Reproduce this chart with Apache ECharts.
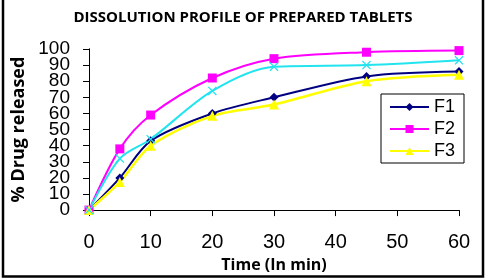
<!DOCTYPE html>
<html>
<head>
<meta charset="utf-8">
<script src="https://cdn.jsdelivr.net/npm/echarts@6/dist/echarts.min.js"></script>
<style>
    html, body {margin: 0; padding: 0; background: #fff;}
    #dissolution_chart {width: 486px; height: 278px;}
</style>
</head>
<body>
<div id="dissolution_chart"></div>
<script>
// time points (min) and % drug released per formulation
var timeData = [0, 5, 10, 20, 30, 45, 60];
var f1Data = [0, 20, 43, 60, 70, 83, 86];
var f2Data = [0, 38, 59, 82, 94, 98, 99];
var f3Data = [0, 17.5, 40, 58.5, 65.5, 80, 84];
var f4Data = [0, 32, 44, 74, 89, 90, 93];
var legendNames = ['F1', 'F2', 'F3'];

function pairs(arr) {
    return timeData.map(function (t, i) {
        return [t, arr[i]];
    });
}

var crossPath = 'path://M0,1L1,0L5,4L9,0L10,1L6,5L10,9L9,10L5,6L1,10L0,9L4,5Z';
var yLabelStyle = {color: '#000', fontSize: 19, margin: 19, fontFamily: 'Liberation Sans'};

function initDissolutionChart() {
    var myChart = echarts.init(document.getElementById('dissolution_chart'));
    var option = {
        backgroundColor: '#fff',
        animation: false,
        title: {
            text: 'DISSOLUTION PROFILE OF PREPARED TABLETS',
            left: 'center', top: 5,
            textStyle: {color: '#000', fontSize: 15, fontWeight: 'bold', fontFamily: 'Open Sans'}
        },
        grid: {left: 89, right: 27, top: 49, bottom: 64},
        legend: {
            data: legendNames,
            orient: 'vertical',
            left: 381, top: 94,
            padding: [4, 9, 3, 8],
            itemGap: 4,
            itemWidth: 39, itemHeight: 10,
            borderColor: '#000', borderWidth: 1,
            textStyle: {color: '#000', fontSize: 18, fontFamily: 'Liberation Sans'}
        },
        xAxis: {
            type: 'value', min: 0, max: 60, interval: 10,
            name: 'Time (In min)', nameLocation: 'middle', nameGap: 36,
            nameTextStyle: {color: '#000', fontSize: 16, fontWeight: 'bold', fontFamily: 'Open Sans'},
            axisLine: {show: true, lineStyle: {color: '#000', width: 1}},
            axisTick: {show: true, length: 6, lineStyle: {color: '#000'}},
            axisLabel: {color: '#000', fontSize: 20, margin: 22, fontFamily: 'Liberation Sans'},
            splitLine: {show: false}
        },
        yAxis: [
            {
                // end labels 0 and 100
                type: 'value', min: 0, max: 100, interval: 100, position: 'left',
                name: '% Drug released', nameLocation: 'middle', nameGap: 60, nameRotate: 90,
                nameTextStyle: {color: '#000', fontSize: 18, fontWeight: 'bold', fontFamily: 'Open Sans'},
                axisLine: {show: true, lineStyle: {color: '#000', width: 1}},
                axisTick: {show: true, length: 6, lineStyle: {color: '#000'}},
                axisLabel: yLabelStyle,
                splitLine: {show: false}
            },
            {
                // inner labels 10..90, same scale and position
                type: 'value', min: 0, max: 100, interval: 10, position: 'left', offset: 0,
                axisLine: {show: true, lineStyle: {color: '#000', width: 1}},
                axisTick: {show: true, length: 6, lineStyle: {color: '#000'}},
                axisLabel: Object.assign({showMinLabel: false, showMaxLabel: false}, yLabelStyle),
                splitLine: {show: false}
            }
        ],
        graphic: [{
            type: 'polyline',
            shape: {points: [[3, 0], [3, 276.5], [483, 276.5], [483, 0]]},
            style: {stroke: '#000', lineWidth: 2.5, fill: null}
        }],
        series: [
            {
                name: 'F1', type: 'line', smooth: 0.3, data: pairs(f1Data),
                symbol: 'diamond', symbolSize: 9,
                itemStyle: {color: '#000080'},
                lineStyle: {color: '#000080', width: 2}
            },
            {
                name: 'F2', type: 'line', smooth: 0.3, data: pairs(f2Data),
                symbol: 'rect', symbolSize: 9,
                itemStyle: {color: '#ff00ff'},
                lineStyle: {color: '#ff00ff', width: 2}
            },
            {
                name: 'F3', type: 'line', smooth: 0.3, data: pairs(f3Data),
                symbol: 'triangle', symbolSize: 10,
                itemStyle: {color: '#ffff00'},
                lineStyle: {color: '#ffff00', width: 2.5}
            },
            {
                name: 'F4', type: 'line', smooth: 0.3, data: pairs(f4Data),
                symbol: crossPath, symbolSize: 9,
                itemStyle: {color: '#22e4ee'},
                lineStyle: {color: '#22e4ee', width: 2}
            }
        ]
    };
    myChart.setOption(option);
}

initDissolutionChart();
</script>
</body>
</html>
